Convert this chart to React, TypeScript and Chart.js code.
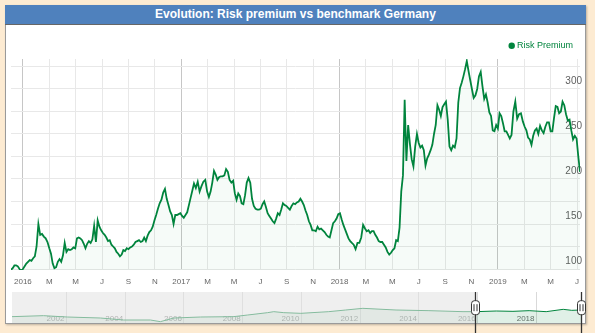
import React, { useEffect, useRef } from 'react';
import { Chart, registerables } from 'chart.js';

Chart.register(...registerables);

const chartTitle = 'Evolution: Risk premium vs benchmark Germany';
const seriesLabel = 'Risk Premium';
const seriesColor = '#00843d';

// observations every 4 days starting at this date
const startDate = '2015-12-04';
const stepDays = 4;
const riskPremium = [
  99, 101, 104, 104, 103, 100, 98, 100, 103, 106,
  108, 110, 109, 112, 114, 125, 150, 138, 139, 136,
  134, 130, 123, 117, 106, 101, 102, 108, 111, 108,
  115, 129, 119, 122, 121, 122, 124, 123, 134, 135,
  134, 132, 128, 123, 128, 131, 129, 133, 148, 130,
  154, 147, 143, 140, 138, 135, 131, 132, 127, 125,
  123, 119, 117, 114, 116, 121, 120, 123, 122, 124,
  125, 127, 130, 131, 132, 130, 131, 135, 131, 137,
  141, 143, 147, 154, 160, 167, 173, 177, 185, 189,
  178, 171, 164, 160, 150, 160, 160, 161, 162, 159,
  157, 160, 163, 171, 179, 187, 195, 190, 197, 186,
  192, 197, 199, 186, 180, 186, 196, 209, 205, 199,
  202, 203, 203, 204, 211, 208, 199, 196, 198, 184,
  177, 184, 181, 173, 172, 182, 196, 201, 196, 178,
  170, 167, 166, 166, 167, 172, 175, 169, 162, 159,
  156, 153, 151, 156, 162, 160, 166, 173, 171, 170,
  168, 166, 170, 173, 172, 174, 175, 178, 175, 171,
  165, 160, 153, 149, 143, 143, 142, 147, 144, 145,
  143, 141, 138, 136, 135, 143, 151, 153, 156, 161,
  162, 155, 149, 144, 139, 134, 131, 129, 127, 122,
  129, 129, 135, 149, 145, 142, 143, 140, 142, 142,
  138, 135, 131, 130, 130, 127, 124, 119, 116, 118,
  121, 123, 132, 131, 146, 186, 204, 288, 220, 260,
  239, 222, 214, 236, 250, 240, 235, 237, 232, 215,
  223, 227, 232, 238, 250, 260, 282, 277, 270, 280,
  283, 286, 266, 236, 232, 237, 235, 245, 285, 301,
  307, 314, 322, 331, 320, 310, 300, 290, 293, 300,
  314, 319, 303, 289, 294, 285, 274, 270, 254, 253,
  260, 256, 273, 270, 262, 253, 253, 249, 245, 249,
  275, 286, 267, 272, 273, 264, 258, 254, 246, 244,
  238, 248, 254, 256, 250, 259, 254, 251, 258, 263,
  263, 253, 253, 268, 281, 280, 273, 275, 286, 282,
  272, 265, 266, 254, 244, 248, 245, 225, 208,
];

const monthLetters = ['J', 'F', 'M', 'A', 'M', 'J', 'J', 'A', 'S', 'O', 'N', 'D'];
const firstTickYear = 2016;
const xTickMonths = [0, 2, 4, 6, 8, 10, 12, 14, 16, 18, 20, 22, 24, 26, 28, 30, 32, 34, 36, 38, 40, 42];
const yGridValues = [100, 125, 150, 175, 200, 225, 250, 275, 300, 325];
const yLabelStep = 50;
const yMin = 98.9;
const yMax = 333.3;

// navigator (full history overview)
const navYears = [
  2000.15, 2001.22, 2002.03, 2003.16, 2003.94, 2004.86, 2005.2, 2005.65, 2006.57, 2007.69,
  2008.17, 2008.85, 2009.06, 2009.4, 2009.98, 2010.93, 2011.51, 2012.09, 2013.22, 2014.34,
  2015.5, 2015.94, 2016.63, 2017.2, 2017.75, 2018.33, 2018.91, 2019.2, 2019.52,
];
const navValues = [
  19, 22, 18, 15, 9, 9, 4, 15, 18, 19,
  24, 31, 34, 31, 29, 34, 39, 44, 39, 37,
  34, 34, 36, 35, 37, 34, 41, 38, 39,
];
const navYearTicks = [2002, 2004, 2006, 2008, 2010, 2012, 2014, 2016, 2018];

const FONT = '"Liberation Sans", Arial, Helvetica, sans-serif';

function addDays(iso: string, days: number): Date {
  const d = new Date(iso + 'T00:00:00Z');
  d.setUTCDate(d.getUTCDate() + days);
  return d;
}
function monthIndex(d: Date): number {
  const y = d.getUTCFullYear();
  const m = d.getUTCMonth();
  const dim = new Date(Date.UTC(y, m + 1, 0)).getUTCDate();
  return (y - firstTickYear) * 12 + m + (d.getUTCDate() - 1) / dim;
}
function yearFloat(d: Date): number {
  const y = d.getUTCFullYear();
  const start = Date.UTC(y, 0, 1);
  const end = Date.UTC(y + 1, 0, 1);
  return y + (d.getTime() - start) / (end - start);
}

export default function App() {
  const mainRef = useRef<HTMLCanvasElement>(null);
  const navRef = useRef<HTMLCanvasElement>(null);

  useEffect(() => {
    const dates = riskPremium.map((_, i) => addDays(startDate, i * stepDays));
    const points = riskPremium.map((v, i) => ({ x: monthIndex(dates[i]), y: v }));
    const xMin = points[0].x;
    const xMax = points[points.length - 1].x;

    const legendPlugin = {
      id: 'topLegend',
      afterDraw(chart: any) {
        const ds = chart.data.datasets[0];
        const ctx = chart.ctx;
        ctx.save();
        ctx.font = `9px ${FONT}`;
        ctx.textAlign = 'right';
        ctx.textBaseline = 'middle';
        ctx.fillStyle = ds.borderColor;
        const right = chart.chartArea.right - 7;
        const y = 20.7;
        ctx.fillText(ds.label, right, y);
        const w = ctx.measureText(ds.label).width;
        ctx.beginPath();
        ctx.arc(right - w - 5.3, y, 3.2, 0, Math.PI * 2);
        ctx.fill();
        ctx.restore();
      },
    };

    const main = new Chart(mainRef.current!, {
      type: 'line',
      data: {
        datasets: [
          {
            label: seriesLabel,
            data: points,
            borderColor: seriesColor,
            backgroundColor: 'rgba(0,132,61,0.035)',
            borderWidth: 1.8,
            pointRadius: 0,
            fill: 'start',
            tension: 0,
          },
        ],
      },
      options: {
        animation: false,
        responsive: false,
        devicePixelRatio: 1,
        layout: { padding: { left: 11, right: 15, top: 34, bottom: 0 } },
        plugins: { legend: { display: false }, tooltip: { enabled: false } },
        scales: {
          x: {
            type: 'linear',
            min: xMin,
            max: xMax,
            afterBuildTicks: (s: any) => {
              s.ticks = xTickMonths.map((v) => ({ value: v }));
            },
            afterFit: (s: any) => {
              s.height = 20;
              s.paddingLeft = 0;
              s.paddingRight = 0;
            },
            border: { display: false },
            grid: {
              drawTicks: false,
              color: (c: any) => (c.tick && c.tick.value % 12 === 0 ? '#c6c6c6' : '#e8e8e8'),
              lineWidth: 1,
            },
            ticks: {
              autoSkip: false,
              maxRotation: 0,
              padding: 7,
              color: '#666',
              font: { size: 8, family: FONT },
              callback: (v: any) => {
                const n = Math.round(Number(v));
                return n % 12 === 0 ? String(firstTickYear + n / 12) : monthLetters[((n % 12) + 12) % 12];
              },
            },
          },
          y: {
            type: 'linear',
            position: 'right',
            min: yMin,
            max: yMax,
            afterBuildTicks: (s: any) => {
              s.ticks = yGridValues.map((v) => ({ value: v }));
            },
            afterFit: (s: any) => {
              s.width = 0;
              s.paddingTop = 0;
              s.paddingBottom = 0;
            },
            border: { display: false },
            grid: { drawTicks: false, color: '#e8e8e8', lineWidth: 1 },
            ticks: {
              mirror: true,
              padding: 2,
              labelOffset: -7.5,
              color: '#606060',
              font: { size: 10, family: FONT },
              callback: (v: any) => (Number(v) % yLabelStep === 0 ? String(v) : ''),
            },
          },
        },
      },
      plugins: [legendPlugin],
    } as any);

    const windowStart = yearFloat(dates[0]);
    const windowEnd = yearFloat(dates[dates.length - 1]);
    const navPoints = navYears.map((yr, i) => ({ x: yr, y: navValues[i] }));

    const navPlugin = {
      id: 'navWindow',
      beforeDatasetsDraw(chart: any) {
        const { ctx, chartArea: a } = chart;
        const xs = chart.scales.x;
        ctx.save();
        ctx.font = `8px ${FONT}`;
        ctx.textAlign = 'right';
        ctx.textBaseline = 'middle';
        ctx.fillStyle = '#707070';
        for (const yr of navYearTicks) {
          const px = xs.getPixelForValue(yr);
          if (px - 20 < a.left) continue;
          ctx.fillText(String(yr), px - 2, a.bottom - 4.5);
        }
        ctx.restore();
      },
      afterDatasetsDraw(chart: any) {
        const { ctx, chartArea: a } = chart;
        const xs = chart.scales.x;
        const xl = xs.getPixelForValue(windowStart);
        const xr = xs.getPixelForValue(windowEnd);
        ctx.save();
        ctx.fillStyle = 'rgba(228,228,228,0.58)';
        ctx.fillRect(a.left, a.top, xl - a.left, a.bottom - a.top);
        ctx.fillRect(xr, a.top, a.right - xr, a.bottom - a.top);
        for (const hx of [Math.round(xl) + 0.5, Math.round(xr) + 0.5]) {
          ctx.strokeStyle = '#333';
          ctx.lineWidth = 1.3;
          ctx.beginPath();
          ctx.moveTo(hx, a.top);
          ctx.lineTo(hx, chart.height);
          ctx.stroke();
          const rx = hx - 4, ry = 10.7, rw = 8, rh = 14, r = 3;
          ctx.beginPath();
          ctx.moveTo(rx + r, ry);
          ctx.lineTo(rx + rw - r, ry);
          ctx.quadraticCurveTo(rx + rw, ry, rx + rw, ry + r);
          ctx.lineTo(rx + rw, ry + rh - r);
          ctx.quadraticCurveTo(rx + rw, ry + rh, rx + rw - r, ry + rh);
          ctx.lineTo(rx + r, ry + rh);
          ctx.quadraticCurveTo(rx, ry + rh, rx, ry + rh - r);
          ctx.lineTo(rx, ry + r);
          ctx.quadraticCurveTo(rx, ry, rx + r, ry);
          ctx.closePath();
          ctx.fillStyle = '#fff';
          ctx.fill();
          ctx.lineWidth = 1;
          ctx.stroke();
          ctx.beginPath();
          ctx.moveTo(hx - 1.5, ry + 3.5);
          ctx.lineTo(hx - 1.5, ry + rh - 3.5);
          ctx.moveTo(hx + 1.5, ry + 3.5);
          ctx.lineTo(hx + 1.5, ry + rh - 3.5);
          ctx.stroke();
        }
        ctx.restore();
      },
    };

    const nav = new Chart(navRef.current!, {
      type: 'line',
      data: {
        datasets: [
          {
            label: seriesLabel,
            data: navPoints,
            borderColor: seriesColor,
            backgroundColor: 'rgba(0,132,61,0.12)',
            borderWidth: 1,
            pointRadius: 0,
            fill: 'start',
            tension: 0,
          },
        ],
      },
      options: {
        animation: false,
        responsive: false,
        devicePixelRatio: 1,
        layout: { padding: { left: 12, right: 14, top: 2, bottom: 10 } },
        plugins: { legend: { display: false }, tooltip: { enabled: false } },
        scales: {
          x: {
            type: 'linear',
            min: navYears[0],
            max: windowEnd,
            afterBuildTicks: (s: any) => {
              s.ticks = navYearTicks.map((v) => ({ value: v }));
            },
            afterFit: (s: any) => {
              s.height = 0;
              s.paddingLeft = 0;
              s.paddingRight = 0;
            },
            border: { display: false },
            grid: { drawTicks: false, color: '#d9d9d9', lineWidth: 1 },
            ticks: { display: false },
          },
          y: { display: false, min: 0, max: 93 },
        },
      },
      plugins: [navPlugin],
    } as any);

    return () => {
      main.destroy();
      nav.destroy();
    };
  }, []);

  return (
    <div
      style={{
        position: 'fixed',
        left: 0,
        top: 0,
        width: 595,
        height: 333,
        background: '#fdebd2',
        overflow: 'hidden',
        fontFamily: FONT,
      }}
    >
      <div
        style={{
          position: 'absolute',
          left: 5,
          top: 5,
          width: 579,
          height: 317,
          background: '#fff',
          border: '1px solid #9a9a9a',
          boxShadow: '1px 1px 2px rgba(0,0,0,0.25)',
        }}
      />
      <div
        style={{
          position: 'absolute',
          left: 5,
          top: 5,
          width: 581,
          height: 19,
          background: '#4f81bd',
          borderBottom: '1px solid #666',
          color: '#fff',
          fontWeight: 'bold',
          fontSize: 12,
          lineHeight: '19px',
          textAlign: 'center',
          whiteSpace: 'nowrap',
        }}
      >
        {chartTitle}
      </div>
      <canvas ref={mainRef} width={595} height={265} style={{ position: 'absolute', left: 0, top: 25 }} />
      <canvas ref={navRef} width={595} height={43} style={{ position: 'absolute', left: 0, top: 290 }} />
    </div>
  );
}
